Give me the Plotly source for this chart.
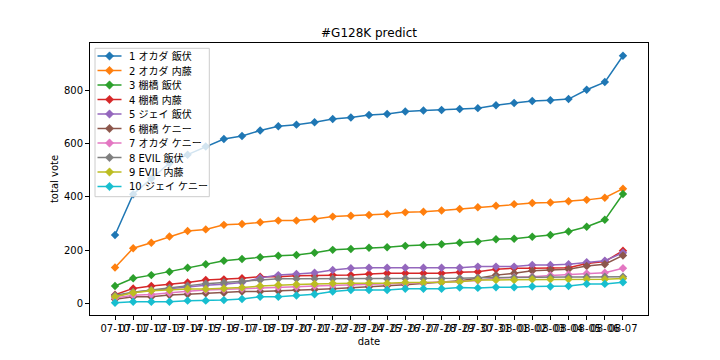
import plotly.graph_objects as go

dates = ["07-10", "07-11", "07-12", "07-13", "07-14", "07-15", "07-16", "07-17",
         "07-18", "07-19", "07-20", "07-21", "07-22", "07-23", "07-24", "07-25",
         "07-26", "07-27", "07-28", "07-29", "07-30", "07-31", "08-01", "08-02",
         "08-03", "08-04", "08-05", "08-06", "08-07"]

names = ["1 オカダ 飯伏", "2 オカダ 内藤", "3 棚橋 飯伏", "4 棚橋 内藤", "5 ジェイ 飯伏",
         "6 棚橋 ケニー", "7 オカダ ケニー", "8 EVIL 飯伏", "9 EVIL 内藤", "10 ジェイ ケニー"]

s1 = [257, 410, 469, 527, 559, 590, 618, 629, 650, 666, 672, 681, 693, 699, 708, 712,
      721, 725, 727, 731, 734, 745, 753, 761, 764, 768, 803, 832, 931]
s2 = [135, 207, 228, 251, 272, 278, 295, 298, 305, 311, 311, 317, 326, 329, 332, 336,
      342, 344, 349, 355, 361, 367, 373, 377, 379, 384, 389, 397, 431]
s3 = [65, 94, 106, 119, 134, 147, 160, 167, 173, 179, 182, 190, 201, 204, 209, 211,
      216, 219, 222, 228, 232, 241, 243, 250, 257, 270, 288, 314, 411]
s4 = [32, 56, 65, 71, 78, 88, 90, 94, 100, 100, 104, 104, 106, 106, 110, 113,
      113, 113, 113, 117, 119, 128, 132, 132, 132, 134, 150, 157, 198]
s5 = [25, 42, 48, 55, 62, 68, 72, 78, 95, 106, 110, 115, 125, 132, 134, 134,
      134, 134, 134, 134, 138, 138, 138, 144, 144, 147, 154, 160, 190]
s6 = [15, 25, 25, 31, 34, 38, 40, 44, 44, 46, 50, 52, 55, 58, 62, 66,
      70, 75, 80, 85, 94, 106, 113, 122, 125, 128, 140, 147, 180]
s7 = [20, 30, 33, 40, 45, 50, 52, 55, 58, 60, 62, 65, 67, 68, 70, 72,
      74, 76, 78, 82, 86, 95, 98, 100, 105, 108, 112, 115, 132]
s8 = [30, 42, 50, 58, 66, 74, 78, 82, 88, 92, 92, 92, 92, 92, 92, 92,
      93, 93, 93, 94, 96, 97, 97, 98, 98, 99, 99, 100, 100]
s9 = [25, 40, 47, 50, 54, 54, 56, 59, 65, 69, 71, 73, 75, 75, 75, 75,
      78, 78, 79, 81, 88, 88, 88, 90, 90, 90, 90, 90, 93]
s10 = [2, 6, 6, 6, 10, 10, 12, 16, 25, 25, 29, 34, 44, 50, 50, 50,
       55, 55, 55, 59, 58, 60, 60, 63, 63, 65, 73, 73, 79]

series = [s1, s2, s3, s4, s5, s6, s7, s8, s9, s10]
colors = ["#1f77b4", "#ff7f0e", "#2ca02c", "#d62728", "#9467bd",
          "#8c564b", "#e377c2", "#7f7f7f", "#bcbd22", "#17becf"]

FONT = "DejaVu Sans, Noto Sans CJK JP, sans-serif"
W, H = 720, 360
L, R, T, B = 90, 72, 43, 45
pw, ph = W - L - R, H - T - B

xs = list(range(len(dates)))

fig = go.Figure()
for name, vals, c in zip(names, series, colors):
    fig.add_trace(go.Scatter(
        x=xs, y=vals, name=name, mode="lines+markers",
        line=dict(color=c, width=1.5),
        marker=dict(symbol="diamond", size=6.5, color=c),
        showlegend=False,
    ))

def px2paper(px, py):
    return (px - L) / pw, (H - B - py) / ph

shapes = []
annotations = []
# legend box (matplotlib style, drawn above data with alpha 0.8)
x0, y0 = px2paper(95, 196.7)
x1, y1 = px2paper(209.3, 48.3)
shapes.append(dict(type="rect", xref="paper", yref="paper", x0=x0, y0=y0, x1=x1, y1=y1,
                   fillcolor="rgba(255,255,255,0.8)", line=dict(color="#cccccc", width=1),
                   layer="above"))
for i, (name, c) in enumerate(zip(names, colors)):
    py = 56 + 14.5 * i
    lx0, ly = px2paper(97.5, py)
    lx1, _ = px2paper(121.5, py)
    mx, _ = px2paper(109.5, py)
    tx, _ = px2paper(126.5, py)
    shapes.append(dict(type="line", xref="paper", yref="paper", x0=lx0, x1=lx1, y0=ly, y1=ly,
                       line=dict(color=c, width=1.5), layer="above"))
    shapes.append(dict(type="path", xref="paper", yref="paper", xsizemode="pixel",
                       ysizemode="pixel", xanchor=mx, yanchor=ly,
                       path="M 0 4.2 L 4.2 0 L 0 -4.2 L -4.2 0 Z",
                       fillcolor=c, line=dict(color=c, width=0.5), layer="above"))
    annotations.append(dict(xref="paper", yref="paper", x=tx, y=ly, text=name,
                            showarrow=False, xanchor="left", yanchor="middle",
                            font=dict(family=FONT, size=10, color="black")))

fig.update_layout(
    width=W, height=H,
    margin=dict(l=L, r=R, t=T, b=B, pad=0),
    paper_bgcolor="white", plot_bgcolor="white",
    font=dict(family=FONT, size=10, color="black"),
    title=dict(text="#G128K predict", x=(L + pw / 2) / W, xanchor="center",
               y=1 - 33 / H, yanchor="middle", font=dict(family=FONT, size=12, color="black")),
    shapes=shapes,
    annotations=annotations,
    showlegend=False,
)
fig.update_xaxes(
    range=[-1.38, len(dates) - 1 + 1.38],
    tickmode="array", tickvals=xs, ticktext=dates, tickangle=0,
    showgrid=False, zeroline=False,
    showline=True, mirror=True, linecolor="black", linewidth=1,
    ticks="outside", ticklen=4, tickcolor="black",
    tickfont=dict(family=FONT, size=10, color="black"),
    title=dict(text="date", standoff=4, font=dict(family=FONT, size=10, color="black")),
)
fig.update_yaxes(
    range=[-44, 979],
    tickmode="array", tickvals=[0, 200, 400, 600, 800],
    showgrid=False, zeroline=False,
    showline=True, mirror=True, linecolor="black", linewidth=1,
    ticks="outside", ticklen=4, tickcolor="black",
    tickfont=dict(family=FONT, size=10, color="black"),
    title=dict(text="total vote", standoff=3, font=dict(family=FONT, size=10, color="black")),
)

fig.write_html("out.html", config={"displayModeBar": False},
               post_script="document.body.style.margin='0px';document.body.style.overflow='hidden';")
